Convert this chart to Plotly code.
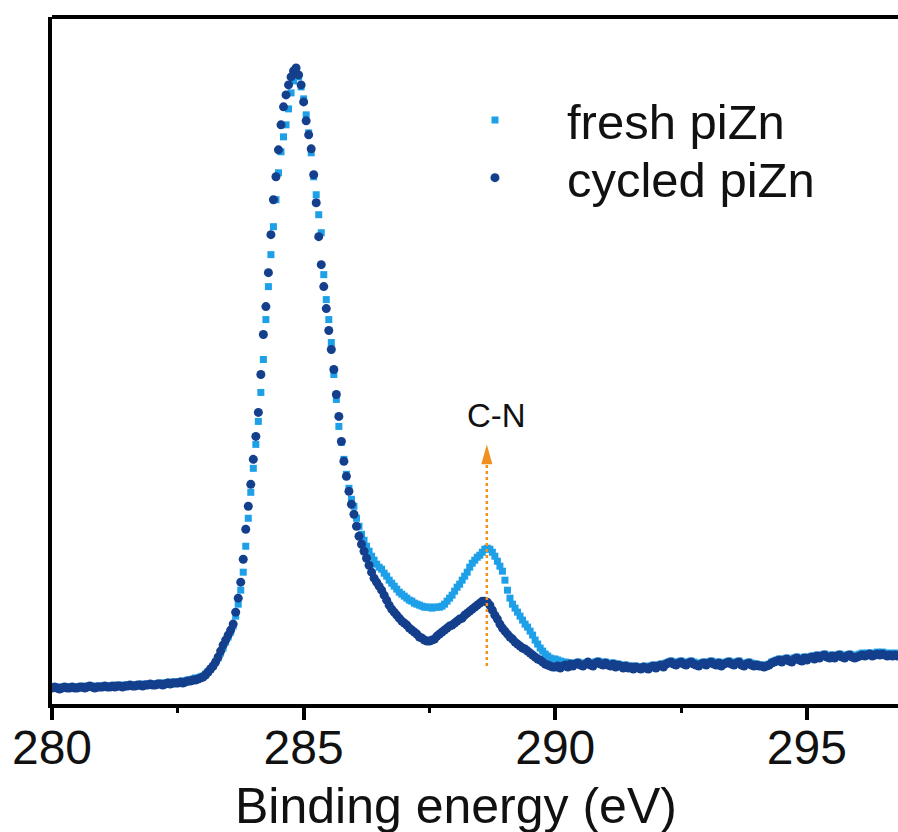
import numpy as np
import plotly.graph_objects as go

# Energy grid (eV): uniform 0.05 eV acquisition step
energy_start = 280.0
energy_step = 0.05

# C 1s intensity (arb. units), one value per 0.05 eV
fresh_piZn = [
    17, 16, 17, 16, 17, 16, 17, 17, 16, 17,
    17, 16, 17, 17, 18, 17, 17, 18, 17, 18,
    18, 17, 18, 18, 17, 18, 19, 18, 18, 19,
    19, 18, 19, 19, 18, 19, 20, 19, 20, 20,
    20, 19, 20, 21, 20, 21, 21, 22, 21, 22,
    22, 22, 23, 23, 24, 24, 25, 26, 26, 27,
    28, 30, 32, 35, 38, 42, 46, 51, 56, 62,
    67, 72, 78, 88, 100, 114, 132, 158, 186, 212,
    236, 260, 283, 312, 345, 385, 418, 450, 478, 505,
    532, 553, 568, 580, 596, 612, 624, 632, 628, 618,
    606, 590, 572, 552, 528, 510, 490, 472, 430, 405,
    385, 362, 330, 305, 278, 262, 245, 230, 216, 205,
    198, 186, 178, 170, 164, 158, 153, 148, 144, 140,
    137, 135, 131, 128, 124, 121, 118, 115, 112, 110,
    108, 106, 104, 103, 101, 100, 99, 98, 97, 97,
    97, 96, 97, 97, 97, 98, 100, 103, 106, 109,
    113, 117, 120, 124, 128, 132, 137, 141, 144, 147,
    149, 152, 155, 156, 155, 152, 148, 143, 138, 133,
    124, 114, 106, 100, 96, 92, 88, 84, 80, 77,
    73, 69, 64, 60, 56, 53, 50, 48, 46, 45,
    45, 44, 43, 42, 42, 41, 41, 40, 41, 42,
    41, 40, 41, 42, 41, 40, 42, 43, 42, 41,
    42, 41, 40, 41, 39, 40, 39, 38, 39, 37,
    38, 37, 38, 37, 36, 37, 38, 37, 38, 39,
    38, 39, 40, 39, 41, 42, 43, 42, 41, 42,
    43, 42, 41, 42, 43, 42, 41, 40, 41, 42,
    41, 42, 43, 42, 41, 42, 40, 41, 42, 43,
    42, 41, 42, 43, 41, 40, 41, 42, 41, 40,
    40, 39, 39, 38, 39, 40, 42, 43, 44, 45,
    44, 45, 46, 45, 44, 46, 47, 46, 45, 47,
    46, 47, 48, 47, 49, 48, 49, 50, 49, 48,
    49, 48, 49, 50, 49, 48, 49, 50, 49, 48,
    49, 50, 51, 50, 51, 51, 50, 51, 52, 51,
    52, 51, 50, 51, 50, 51, 50,
]

cycled_piZn = [
    16, 17, 16, 15, 16, 17, 16, 16, 17, 16,
    16, 17, 17, 16, 17, 18, 17, 16, 17, 17,
    17, 18, 17, 17, 18, 17, 18, 18, 17, 18,
    18, 19, 18, 18, 19, 19, 18, 19, 19, 20,
    19, 19, 20, 20, 19, 20, 21, 20, 21, 21,
    21, 22, 21, 22, 23, 23, 24, 24, 25, 26,
    27, 29, 32, 35, 38, 42, 47, 53, 59, 64,
    69, 74, 80, 92, 106, 122, 145, 175, 198, 220,
    245, 268, 292, 330, 370, 398, 432, 470, 505, 528,
    555, 580, 598, 610, 620, 628, 634, 637, 630, 620,
    603, 584, 570, 556, 530, 502, 468, 440, 418, 396,
    374, 355, 335, 310, 288, 263, 243, 228, 213, 200,
    190, 178, 168, 160, 153, 146, 139, 132, 126, 122,
    118, 114, 109, 104, 99, 95, 92, 89, 86, 83,
    81, 79, 76, 74, 72, 70, 67, 66, 64, 63,
    63, 64, 65, 68, 70, 72, 74, 76, 78, 79,
    81, 83, 85, 86, 89, 91, 93, 95, 97, 99,
    101, 103, 103, 102, 99, 94, 89, 85, 80, 76,
    73, 70, 67, 65, 62, 60, 58, 56, 55, 53,
    51, 49, 47, 45, 44, 42, 40, 39, 38, 37,
    37, 38, 36, 38, 39, 37, 40, 38, 40, 41,
    39, 38, 40, 42, 39, 38, 41, 42, 40, 39,
    41, 39, 38, 40, 37, 39, 38, 36, 38, 36,
    37, 35, 37, 36, 35, 37, 36, 35, 37, 38,
    36, 38, 39, 37, 40, 41, 42, 40, 39, 41,
    42, 40, 39, 41, 42, 40, 39, 38, 40, 41,
    39, 41, 42, 40, 39, 41, 38, 40, 41, 42,
    40, 39, 41, 42, 39, 38, 40, 41, 39, 38,
    39, 38, 38, 37, 38, 39, 41, 42, 43, 44,
    42, 44, 45, 43, 42, 45, 46, 44, 43, 46,
    44, 46, 47, 45, 48, 46, 48, 49, 47, 46,
    48, 46, 48, 49, 47, 46, 48, 49, 47, 46,
    47, 48, 49, 48, 49, 50, 48, 49, 50, 49,
    50, 49, 48, 49, 48, 49, 48,
]

series_names = ["fresh piZn", "cycled piZn"]
x_tick_values = [280, 285, 290, 295]
x_tick_labels = ["280", "285", "290", "295"]

# C-N annotation
cn_label = "C-N"
cn_energy = 288.64
cn_arrow_base = 38
cn_arrow_tip = 260

energy = np.round(energy_start + energy_step * np.arange(len(cycled_piZn)), 2)

FONT = "Liberation Sans, Arial, Helvetica, sans-serif"
LIGHT = "#1ea0e8"
DARK = "#143f8c"
ORANGE = "#f0901e"

fig = go.Figure()
fig.add_trace(go.Scatter(
    x=energy, y=fresh_piZn, mode="markers", name=series_names[0],
    marker=dict(symbol="square", size=7, color=LIGHT, line=dict(width=0)),
    legend="legend",
))
fig.add_trace(go.Scatter(
    x=energy, y=cycled_piZn, mode="markers", name=series_names[1],
    marker=dict(symbol="circle", size=9, color=DARK, line=dict(width=0)),
    legend="legend2",
))

# dotted arrow shaft
fig.add_shape(type="line", xref="x", yref="y",
              x0=cn_energy, x1=cn_energy, y0=cn_arrow_base, y1=cn_arrow_tip - 18,
              line=dict(color=ORANGE, width=2.5, dash="dot"), layer="above")
# arrow head
hw = 0.11
fig.add_shape(type="path", xref="x", yref="y",
              path=f"M {cn_energy-hw},{cn_arrow_tip-20} L {cn_energy+hw},{cn_arrow_tip-20} L {cn_energy},{cn_arrow_tip} Z",
              fillcolor=ORANGE, line=dict(width=0), layer="above")

fig.add_annotation(x=cn_energy + 0.2, y=cn_arrow_tip + 29, xref="x", yref="y",
                   text=cn_label, showarrow=False,
                   font=dict(family=FONT, size=33, color="#111111"),
                   xanchor="center", yanchor="middle")

# top frame line
fig.add_shape(type="line", xref="paper", yref="paper", x0=0, x1=1, y0=1, y1=1,
              line=dict(color="black", width=4))

# x-axis title
fig.add_annotation(x=0.4775, y=-0.148, xref="paper", yref="paper",
                   text="Binding energy (eV)", showarrow=False,
                   font=dict(family=FONT, size=50, color="#111111"),
                   xanchor="center", yanchor="middle")

fig.update_xaxes(
    range=[280, 296.81], showline=True, linecolor="black", linewidth=4,
    tickmode="array", tickvals=x_tick_values, ticktext=x_tick_labels,
    ticks="outside", ticklen=12, tickwidth=4, tickcolor="black",
    ticklabelstandoff=-14,
    minor=dict(dtick=2.5, tick0=280, ticks="outside", ticklen=5, tickwidth=3, tickcolor="black"),
    tickfont=dict(family=FONT, size=48, color="#111111"),
    showgrid=False, zeroline=False,
)
fig.update_yaxes(
    range=[0, 688], showline=True, linecolor="black", linewidth=4,
    showticklabels=False, ticks="", showgrid=False, zeroline=False,
)

legend_style = dict(xanchor="left", yanchor="top",
                    font=dict(family=FONT, size=49, color="#111111"),
                    itemwidth=134, bgcolor="rgba(0,0,0,0)", borderwidth=0)

fig.update_layout(
    width=898, height=832,
    margin=dict(l=52, r=0, t=17, b=128),
    plot_bgcolor="white", paper_bgcolor="white",
    showlegend=True,
    legend=dict(x=0.4385, y=0.906, **legend_style),
    legend2=dict(x=0.4385, y=0.822, **legend_style),
)

fig.write_html("out.html",
               config={"displayModeBar": False},
               post_script="document.body.style.margin='0px';document.body.style.overflow='hidden';")
